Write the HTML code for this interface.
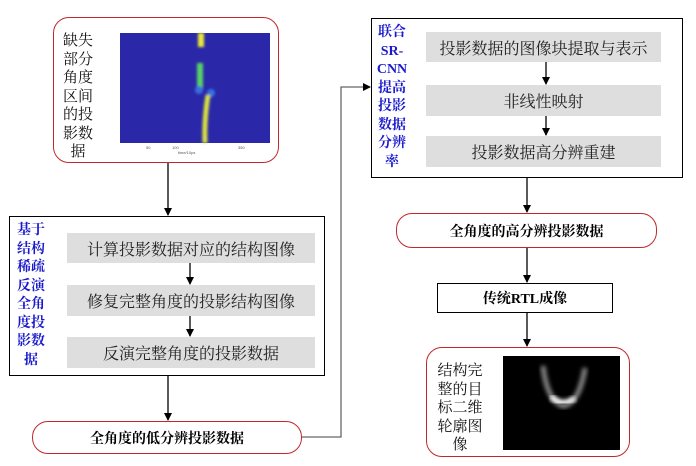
<!DOCTYPE html>
<html><head><meta charset="utf-8"><style>
body{margin:0;width:696px;height:466px;background:#fff;position:relative;overflow:hidden;font-family:"Liberation Serif","Noto Serif CJK SC",serif;}
.a{position:absolute;box-sizing:border-box;}
.rb{border:1.5px solid #c0282c;border-radius:16px;background:#fff;}
.bb{border:1.5px solid #000;background:#fff;}
.g{background:#dedede;font-size:16px;color:#222;display:flex;align-items:center;justify-content:center;font-family:"Noto Serif CJK SC",serif;}
.lab{color:#1a1acc;font-weight:bold;font-size:14px;line-height:18.5px;text-align:center;font-family:"Liberation Serif","Noto Serif CJK SC",serif;}
.el{display:flex;align-items:center;justify-content:center;font-size:14px;font-weight:bold;font-family:"Liberation Serif","Noto Serif CJK SC",serif;}
.bl{font-size:15px;line-height:18.5px;text-align:center;color:#111;font-family:"Noto Serif CJK SC",serif;}
#ln{z-index:5}
</style></head><body>

<div class="a rb" style="left:53px;top:17px;width:226px;height:146px"></div>
<div class="a bl" style="left:60px;top:31px;width:36px">缺失部分角度区间的投影数<br>据</div>
<svg class="a" style="left:108px;top:30px" width="165" height="125">
<defs><filter id="s"><feGaussianBlur stdDeviation="1.2"/></filter></defs>
<rect x="12" y="3" width="150" height="110" fill="#2a28a8"/>
<g filter="url(#s)">
<rect x="90" y="3" width="6" height="14" fill="#e8e838"/>
<rect x="89" y="33" width="6" height="27" fill="#58d068"/>
<circle cx="91" cy="60" r="4" fill="#3a6ce0"/>
<circle cx="103" cy="63" r="4" fill="#3a70e0"/>
<path d="M100,65 Q96,90 97,113" stroke="#d8e040" stroke-width="5" fill="none"/>
</g>
<g font-size="4" fill="#555" font-family="Liberation Sans"><text x="38" y="119">50</text><text x="64" y="119">100</text><text x="130" y="119">350</text><text x="70" y="124">time/10ps</text></g>
</svg>

<div class="a bb" style="left:9px;top:216px;width:316px;height:160px"></div>
<div class="a lab" style="left:14px;top:222px;width:34px">基于结构稀疏反演全角度投影数<br>据</div>
<div class="a g" style="left:67px;top:233px;width:248px;height:30px">计算投影数据对应的结构图像</div>
<div class="a g" style="left:67px;top:285px;width:248px;height:31px">修复完整角度的投影结构图像</div>
<div class="a g" style="left:67px;top:337px;width:248px;height:31px">反演完整角度的投影数据</div>

<div class="a rb el" style="left:32px;top:421px;width:270px;height:33px">全角度的低分辨投影数据</div>

<div class="a bb" style="left:371px;top:18px;width:312px;height:160px"></div>
<div class="a lab" style="left:374px;top:24px;width:36px">联合<br>SR-<br>CNN<br>提高投影数据分辨率</div>
<div class="a g" style="left:426px;top:32px;width:235px;height:30px">投影数据的图像块提取与表示</div>
<div class="a g" style="left:426px;top:85px;width:235px;height:31px">非线性映射</div>
<div class="a g" style="left:426px;top:136px;width:235px;height:31px">投影数据高分辨重建</div>

<div class="a rb el" style="left:396px;top:213px;width:261px;height:35px">全角度的高分辨投影数据</div>
<div class="a bb el" style="left:437px;top:283px;width:176px;height:30px">传统RTL成像</div>

<div class="a rb" style="left:426px;top:347px;width:204px;height:110px"></div>
<div class="a bl" style="left:434px;top:361px;width:52px">结构完整的目标二维轮廓图<br>像</div>
<svg class="a" style="left:503px;top:356px" width="117" height="94">
<defs><filter id="b"><feGaussianBlur stdDeviation="2"/></filter></defs>
<rect width="117" height="94" fill="#000"/>
<path d="M40,10 Q44,45 60,50 Q76,48 82,12" stroke="#888" stroke-width="5" fill="none" filter="url(#b)"/>
<path d="M48,40 Q58,52 72,42" stroke="#fff" stroke-width="5" fill="none" filter="url(#b)"/>
</svg>

<svg id="ln" class="a" style="left:0;top:0" width="696" height="466">
<defs><marker id="m" markerWidth="8" markerHeight="8" refX="7" refY="4" orient="auto" markerUnits="userSpaceOnUse"><path d="M0,0 L8,4 L0,8z" fill="#000"/></marker></defs>
<g stroke="#000" stroke-width="1.3" fill="none">
<line x1="168" y1="163" x2="168" y2="215" marker-end="url(#m)"/>
<line x1="168" y1="376" x2="168" y2="420" marker-end="url(#m)"/>
<polyline points="302,437 341,437 341,87 370,87" stroke="#666" marker-end="url(#m)"/>
<line x1="527" y1="178" x2="527" y2="212" marker-end="url(#m)"/>
<line x1="527" y1="248" x2="527" y2="282" marker-end="url(#m)"/>
<line x1="527" y1="313" x2="527" y2="346" marker-end="url(#m)"/>
<line x1="190" y1="263" x2="190" y2="284" marker-end="url(#m)"/>
<line x1="190" y1="316" x2="190" y2="336" marker-end="url(#m)"/>
<line x1="546" y1="62" x2="546" y2="84" marker-end="url(#m)"/>
<line x1="546" y1="116" x2="546" y2="135" marker-end="url(#m)"/>
</g></svg>
</body></html>
